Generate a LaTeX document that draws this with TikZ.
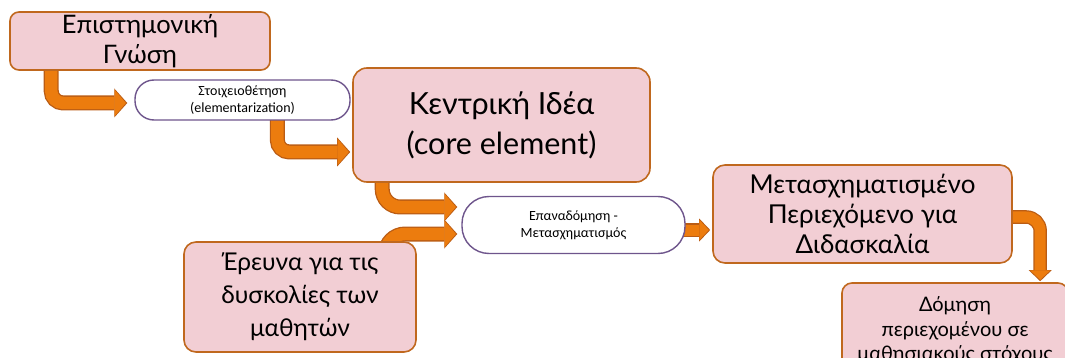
\documentclass[tikz,border=0pt]{standalone}
\usepackage{fontspec}
\setmainfont{Lato}
\newfontfamily\smallfont{Carlito}
\usetikzlibrary{arrows.meta,calc}
\definecolor{boxfill}{RGB}{242,206,212}
\definecolor{boxline}{RGB}{192,104,30}
\definecolor{arrfill}{RGB}{236,124,14}
\definecolor{arrline}{RGB}{186,92,20}
\definecolor{ovline}{RGB}{110,85,140}
\pgfdeclarelayer{background}
\pgfsetlayers{background,main}
\begin{document}
\begin{tikzpicture}[x=1pt,y=-1pt,
  pinkbox/.style={draw=boxline, fill=boxfill, line width=1.6pt, rounded corners=9pt, align=center, inner sep=0pt},
  ovalbox/.style={draw=ovline, fill=white, line width=1.4pt, align=center, inner sep=0pt, font=\smallfont\fontsize{14}{17}\selectfont},
  arrout/.style={draw=arrline, line width=15pt, -{Triangle[length=13pt,width=29pt,line width=0pt]}},
  arrin/.style={draw=arrfill, line width=12.4pt, shorten >=1.4pt, -{Triangle[length=11.2pt,width=26pt,line width=0pt]}},
  arrouts/.style={draw=arrline, line width=13.5pt, -{Triangle[length=11pt,width=23pt,line width=0pt]}},
  arrins/.style={draw=arrfill, line width=11pt, shorten >=1.4pt, -{Triangle[length=9.4pt,width=20pt,line width=0pt]}}
]
\useasboundingbox (0,0) rectangle (1065,358);
\clip (0,0) rectangle (1065,358);

\node[pinkbox, minimum width=260pt, minimum height=58pt, font=\fontsize{25.5}{30}\selectfont] (sci) at (140,41) {Επιστημονική\\Γνώση};
\node[ovalbox, minimum width=215pt, minimum height=40pt, rounded corners=19pt] (elem) at (242.5,100) {Στοιχειοθέτηση\\(elementarization)};
\node[pinkbox, minimum width=297pt, minimum height=114pt, rounded corners=14pt, font=\fontsize{30.5}{40}\selectfont] (core) at (501.5,125) {Κεντρική Ιδέα\\(core element)};
\node[ovalbox, minimum width=223pt, minimum height=57pt, rounded corners=27pt] (rest) at (573.5,225) {Επαναδόμηση -\\Μετασχηματισμός};
\node[pinkbox, minimum width=232pt, minimum height=110pt, rounded corners=12pt, font=\fontsize{24.5}{33}\selectfont] (res) at (300,297) {Έρευνα για τις\\δυσκολίες των\\μαθητών};
\node[pinkbox, minimum width=299pt, minimum height=98pt, rounded corners=12pt, font=\fontsize{26}{30}\selectfont] (meta) at (862.5,214) {Μετασχηματισμένο\\Περιεχόμενο για\\Διδασκαλία};
\node[pinkbox, minimum width=226pt, minimum height=95pt, rounded corners=10pt, font=\fontsize{20}{24.5}\selectfont] (struct) at (955,330.5) {Δόμηση\\περιεχομένου σε\\μαθησιακούς στόχους};

\begin{pgfonlayer}{background}
\foreach \st in {arrout,arrin}{
  \draw[\st, rounded corners=12pt] ([xshift=42pt,yshift=5pt]sci.south west) |- ([xshift=-7pt,yshift=-3pt]elem.west);
  \draw[\st, rounded corners=12pt] ([xshift=143pt,yshift=5pt]elem.south west) |- ([xshift=-2pt,yshift=-27pt]core.west);
  \draw[\st, rounded corners=18pt] ([xshift=30pt,yshift=5pt]core.south west) |- ([xshift=-4pt,yshift=18pt]rest.west);
  \draw[\st, rounded corners=20pt] ([xshift=202pt,yshift=-23pt]res.north west) |- ([xshift=-4pt,yshift=-9pt]rest.west);
}
\foreach \st in {arrouts,arrins}{
  \draw[\st] ([xshift=-10pt,yshift=-5pt]rest.east) -- ([xshift=-2pt,yshift=-5pt]rest.east -| meta.west);
  \draw[\st, rounded corners=14pt] ([xshift=-5pt,yshift=-3pt]meta.east) -| ([xshift=199pt,yshift=1pt]struct.north west);
}
\end{pgfonlayer}
\end{tikzpicture}
\end{document}
